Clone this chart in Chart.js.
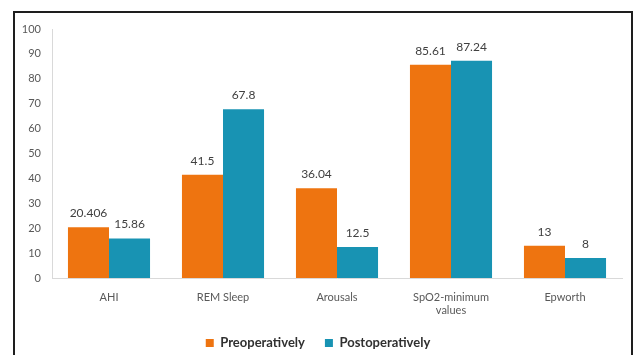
<!DOCTYPE html>
<html>
<head>
<meta charset="utf-8">
<script src="https://cdn.jsdelivr.net/npm/chart.js@4.4.1/dist/chart.umd.min.js"></script>
<style>
  html, body { margin: 0; padding: 0; background: #fff; }
  #wrap { position: relative; width: 635px; height: 355px; }
  #frame {
    position: absolute; left: 13px; top: 11px; width: 616px; height: 360px;
    border: 2px solid #1e1e1e; pointer-events: none;
  }
  canvas { position: absolute; left: 0; top: 0; }
</style>
</head>
<body>
<div id="wrap">
  <canvas id="outcomes" width="635" height="355"></canvas>
  <div id="frame"></div>
</div>
<script>
const categories = ['AHI', 'REM Sleep', 'Arousals', ['SpO2-minimum', 'values'], 'Epworth'];
const preValues = [20.406, 41.5, 36.04, 85.61, 13];
const postValues = [15.86, 67.8, 12.5, 87.24, 8];
const yTicks = [0, 10, 20, 30, 40, 50, 60, 70, 80, 90, 100];

const FONT = "Lato, 'Liberation Sans', sans-serif";

// writes each bar's value just above its top
const valueLabels = {
    id: 'valueLabels',
    afterDatasetsDraw(chart) {
        const ctx = chart.ctx;
        ctx.save();
        ctx.font = '12px ' + FONT;
        ctx.fillStyle = '#404040';
        ctx.textAlign = 'center';
        ctx.textBaseline = 'bottom';
        chart.data.datasets.forEach((ds, i) => {
            chart.getDatasetMeta(i).data.forEach((bar, j) => {
                ctx.fillText(String(ds.data[j]), bar.x, bar.y - 8);
            });
        });
        ctx.restore();
    }
};

onload = () => {
    new Chart(document.getElementById('outcomes'), {
        type: 'bar',
        data: {
            labels: categories,
            datasets: [{
                label: 'Preoperatively',
                data: preValues,
                backgroundColor: '#EE7410',
            }, {
                label: 'Postoperatively',
                data: postValues,
                backgroundColor: '#1893B3',
            }]
        },
        options: {
            responsive: false,
            animation: false,
            datasets: { bar: { categoryPercentage: 0.72, barPercentage: 1.0 } },
            layout: { padding: { left: 14, right: 13, top: 29, bottom: -4.5 } },
            plugins: {
                tooltip: { enabled: false },
                legend: {
                    position: 'bottom',
                    labels: {
                        boxWidth: 8, boxHeight: 8, padding: 20,
                        color: '#303030',
                        font: { family: FONT, size: 13, weight: 'bold' }
                    }
                }
            },
            scales: {
                x: {
                    grid: { display: false, drawTicks: false },
                    border: { color: '#d9d9d9' },
                    ticks: {
                        color: '#595959', padding: 13, maxRotation: 0, autoSkip: false,
                        font: { family: FONT, size: 11 }
                    },
                    afterFit(scale) { scale.height = 38.5; }
                },
                y: {
                    min: 0, max: 100,
                    afterBuildTicks(scale) { scale.ticks = yTicks.map(v => ({ value: v })); },
                    grid: { display: false, drawTicks: false },
                    border: { color: '#d9d9d9' },
                    ticks: {
                        color: '#595959', padding: 11,
                        font: { family: FONT, size: 11 }
                    },
                    afterFit(scale) { scale.width = 38; }
                }
            }
        },
        plugins: [valueLabels]
    });
};
</script>
</body>
</html>
